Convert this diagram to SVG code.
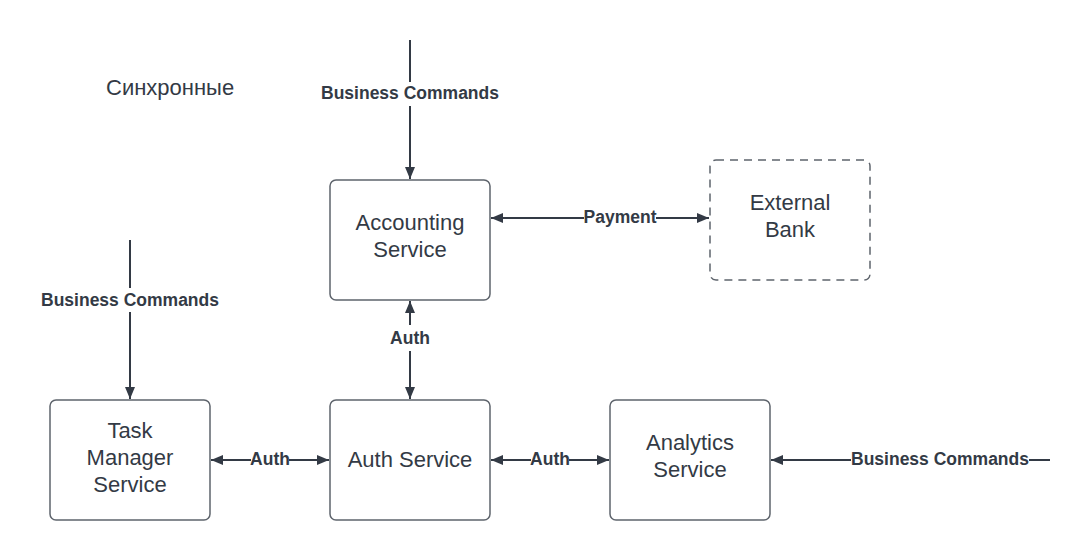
<svg xmlns="http://www.w3.org/2000/svg" width="1090" height="560" viewBox="0 0 1090 560">
<style>
.node{fill:#ffffff;stroke:#5e646c;stroke-width:1.5}
.dash{stroke-dasharray:8 6}
.nt{font-family:"Liberation Sans",Arial,sans-serif;font-size:22px;fill:#333a45;text-anchor:middle}
.ln{stroke:#333a45;stroke-width:2;fill:none}
.lb{font-family:"Liberation Sans",Arial,sans-serif;font-size:17.5px;font-weight:bold;fill:#333a45;text-anchor:middle}
.bg{fill:#ffffff}
</style>
<defs>
<marker id="ah" viewBox="0 0 12 10" refX="12" refY="5" markerWidth="12" markerHeight="10" markerUnits="userSpaceOnUse" orient="auto-start-reverse">
<path d="M0,0 L12,5 L0,10 z" fill="#333a45"/>
</marker>
</defs>
<rect width="1090" height="560" fill="#ffffff"/>
<text x="106" y="95" font-family="'Liberation Sans',Arial,sans-serif" font-size="22" fill="#333a45">Синхронные</text>
<g id="connectors">
<line class="ln" x1="410" y1="40" x2="410" y2="179" marker-end="url(#ah)"/>
<rect class="bg" x="320" y="82" width="180" height="24"/>
<text class="lb" x="410" y="99">Business Commands</text>
<line class="ln" x1="130" y1="240" x2="130" y2="399" marker-end="url(#ah)"/>
<rect class="bg" x="40" y="288" width="180" height="24"/>
<text class="lb" x="130" y="306">Business Commands</text>
<line class="ln" x1="491" y1="218" x2="709" y2="218" marker-start="url(#ah)" marker-end="url(#ah)"/>
<rect class="bg" x="584" y="206" width="72" height="24"/>
<text class="lb" x="620" y="223">Payment</text>
<line class="ln" x1="410" y1="301" x2="410" y2="399" marker-start="url(#ah)" marker-end="url(#ah)"/>
<rect class="bg" x="388" y="325" width="44" height="26"/>
<text class="lb" x="410" y="344">Auth</text>
<line class="ln" x1="211" y1="460" x2="329" y2="460" marker-start="url(#ah)" marker-end="url(#ah)"/>
<rect class="bg" x="251" y="448" width="38" height="24"/>
<text class="lb" x="270" y="465">Auth</text>
<line class="ln" x1="491" y1="460" x2="609" y2="460" marker-start="url(#ah)" marker-end="url(#ah)"/>
<rect class="bg" x="531" y="448" width="38" height="24"/>
<text class="lb" x="550" y="465">Auth</text>
<line class="ln" x1="1050" y1="460" x2="771" y2="460" marker-end="url(#ah)"/>
<rect class="bg" x="851" y="448" width="178" height="24"/>
<text class="lb" x="940" y="465">Business Commands</text>
</g>
<g id="accounting">
<rect class="node" x="330" y="180" width="160" height="120" rx="6"/>
<text class="nt" x="410" y="230">Accounting</text>
<text class="nt" x="410" y="257">Service</text>
</g>
<g id="external-bank">
<rect class="node dash" x="710" y="160" width="160" height="120" rx="6"/>
<text class="nt" x="790" y="210">External</text>
<text class="nt" x="790" y="237">Bank</text>
</g>
<g id="task-manager">
<rect class="node" x="50" y="400" width="160" height="120" rx="6"/>
<text class="nt" x="130" y="438">Task</text>
<text class="nt" x="130" y="465">Manager</text>
<text class="nt" x="130" y="492">Service</text>
</g>
<g id="auth-service">
<rect class="node" x="330" y="400" width="160" height="120" rx="6"/>
<text class="nt" x="410" y="467">Auth Service</text>
</g>
<g id="analytics">
<rect class="node" x="610" y="400" width="160" height="120" rx="6"/>
<text class="nt" x="690" y="450">Analytics</text>
<text class="nt" x="690" y="477">Service</text>
</g>
</svg>
